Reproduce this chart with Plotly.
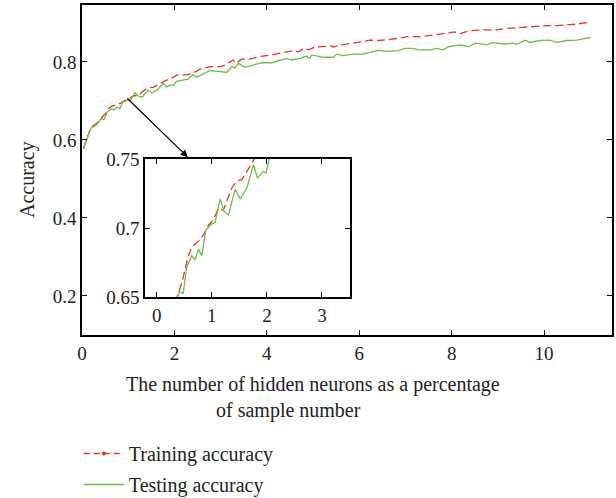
import plotly.graph_objects as go

# Testing accuracy (green, solid)
test_x = [0.03, 0.19, 0.31, 0.375, 0.41, 0.48, 0.545, 0.636, 0.696, 0.756, 0.818, 0.891, 1.0, 1.06,
          1.151, 1.224, 1.302, 1.424, 1.515, 1.636, 1.757, 1.83, 1.927, 1.987, 2.04, 2.15, 2.29, 2.4,
          2.47, 2.62, 2.77, 2.99, 3.13, 3.24, 3.31, 3.38, 3.53, 3.71, 3.89, 4.1, 4.28, 4.43, 4.54,
          4.72, 4.86, 4.93, 4.97, 5.22, 5.44, 5.51, 5.65, 5.87, 6.08, 6.27, 6.41, 6.59, 6.85, 6.99,
          7.17, 7.28, 7.53, 7.68, 7.82, 7.93, 8.18, 8.36, 8.51, 8.76, 8.9, 9.12, 9.34, 9.41, 9.59,
          9.7, 9.91, 10.13, 10.27, 10.49, 10.71, 10.92, 11.0]
test_y = [0.576, 0.630, 0.638, 0.650, 0.654, 0.6525, 0.672, 0.680, 0.677, 0.6845, 0.680, 0.6985,
          0.703, 0.704, 0.721, 0.712, 0.7095, 0.728, 0.721, 0.729, 0.746, 0.736, 0.741, 0.740, 0.750,
          0.752, 0.756, 0.767, 0.761, 0.769, 0.778, 0.775, 0.773, 0.788, 0.784, 0.797, 0.786, 0.792,
          0.798, 0.798, 0.805, 0.809, 0.805, 0.809, 0.815, 0.809, 0.818, 0.812, 0.812, 0.820, 0.816,
          0.820, 0.820, 0.826, 0.830, 0.827, 0.829, 0.835, 0.835, 0.831, 0.831, 0.835, 0.831, 0.839,
          0.844, 0.839, 0.848, 0.844, 0.850, 0.846, 0.848, 0.845, 0.856, 0.850, 0.855, 0.856, 0.850,
          0.855, 0.856, 0.861, 0.862]

# Training accuracy (red, dashed)
train_x = [0.03, 0.19, 0.31, 0.375, 0.455, 0.515, 0.575, 0.636, 0.757, 0.848, 0.939, 1.03, 1.12,
           1.21, 1.364, 1.455, 1.545, 1.667, 1.787, 1.93, 2.06, 2.27, 2.41, 2.55, 2.77, 2.99, 3.1,
           3.27, 3.34, 3.45, 3.63, 3.85, 4.1, 4.35, 4.57, 4.68, 4.82, 4.9, 5.04, 5.4, 5.44, 5.62,
           5.87, 6.08, 6.23, 6.44, 6.65, 6.88, 7.03, 7.32, 7.6, 7.97, 8.06, 8.15, 8.4, 8.69, 8.97,
           9.19, 9.55, 9.84, 10.06, 10.27, 10.49, 10.71, 10.92, 11.0]
train_y = [0.578, 0.632, 0.642, 0.651, 0.660, 0.669, 0.680, 0.686, 0.6905, 0.695, 0.702, 0.706,
           0.714, 0.713, 0.729, 0.734, 0.735, 0.743, 0.751, 0.758, 0.767, 0.767, 0.772, 0.781,
           0.788, 0.788, 0.792, 0.805, 0.797, 0.807, 0.807, 0.814, 0.818, 0.824, 0.829, 0.826,
           0.835, 0.831, 0.838, 0.841, 0.838, 0.844, 0.848, 0.852, 0.856, 0.855, 0.858, 0.861,
           0.865, 0.865, 0.869, 0.875, 0.877, 0.872, 0.880, 0.882, 0.882, 0.886, 0.889, 0.893,
           0.893, 0.893, 0.895, 0.897, 0.901, 0.902]

main_xticks = [0, 2, 4, 6, 8, 10]
main_yticks = [0.2, 0.4, 0.6, 0.8]
inset_xticks = [0, 1, 2, 3]
inset_yticks = [0.65, 0.7, 0.75]

RED = "#ee3030"
GREEN = "#6cbf45"
FONT = "Liberation Serif"
TXT = "#222"

fig = go.Figure()

fig.add_trace(go.Scatter(x=train_x, y=train_y, mode="lines", showlegend=False,
                         line=dict(color=RED, width=1.3, dash="8px,4px"), xaxis="x", yaxis="y"))
fig.add_trace(go.Scatter(x=test_x, y=test_y, mode="lines", showlegend=False,
                         line=dict(color=GREEN, width=1.3), xaxis="x", yaxis="y"))
fig.add_trace(go.Scatter(x=train_x, y=train_y, mode="lines", showlegend=False,
                         line=dict(color=RED, width=1.3, dash="8px,4px"), xaxis="x2", yaxis="y2"))
fig.add_trace(go.Scatter(x=test_x, y=test_y, mode="lines", showlegend=False,
                         line=dict(color=GREEN, width=1.3), xaxis="x2", yaxis="y2"))
fig.add_trace(go.Scatter(x=[None], y=[None], mode="lines+markers", name="Training accuracy",
                         legendgroup="a", line=dict(color=RED, width=1.3, dash="6px,4px"),
                         marker=dict(size=4, color=RED)))
fig.add_trace(go.Scatter(x=[None], y=[None], mode="lines", name="Testing accuracy",
                         legendgroup="b", line=dict(color=GREEN, width=1.3)))

axis_common = dict(showline=True, linecolor="black", linewidth=1.6, mirror="ticks",
                   ticks="inside", ticklen=5, tickcolor="black", showgrid=False, zeroline=False,
                   automargin=False, tickfont=dict(family=FONT, size=19, color=TXT))

fig.update_layout(
    width=616, height=498,
    margin=dict(l=82, r=4, t=5, b=163, autoexpand=False),
    paper_bgcolor="white", plot_bgcolor="white",
    font=dict(family=FONT, size=19, color=TXT),
    xaxis=dict(range=[0, 11.47], tickvals=main_xticks, domain=[0, 1], **axis_common),
    yaxis=dict(range=[0.1, 0.946], tickvals=main_yticks, domain=[0, 1], **axis_common),
    xaxis2=dict(range=[-0.213, 3.51], tickvals=inset_xticks, domain=[0.1189, 0.5057],
                anchor="y2", **axis_common),
    yaxis2=dict(range=[0.65, 0.75], tickvals=inset_yticks, domain=[0.1152, 0.5333],
                anchor="x2", **axis_common),
    legend=dict(x=-0.006, y=(335 - 504) / 330, xanchor="left", yanchor="bottom",
                traceorder="grouped", tracegroupgap=2, itemwidth=40,
                font=dict(family=FONT, size=20, color=TXT), bgcolor="rgba(0,0,0,0)"),
    showlegend=True,
)

fig.add_annotation(text="The number of hidden neurons as a percentage", xref="paper", yref="paper",
                   x=(313 - 82) / 530, y=(335 - 384) / 330, showarrow=False,
                   font=dict(family=FONT, size=20, color=TXT), xanchor="center", yanchor="middle")
fig.add_annotation(text="of sample number", xref="paper", yref="paper",
                   x=(288 - 82) / 530, y=(335 - 410) / 330, showarrow=False,
                   font=dict(family=FONT, size=20, color=TXT), xanchor="center", yanchor="middle")
fig.add_annotation(text="Accuracy", xref="paper", yref="paper", textangle=-90,
                   x=(27 - 82) / 530, y=(335 - 180) / 330, showarrow=False,
                   font=dict(family=FONT, size=20, color=TXT), xanchor="center", yanchor="middle")
fig.add_annotation(x=2.29, y=0.556, ax=0.95, ay=0.71, xref="x", yref="y", axref="x", ayref="y",
                   showarrow=True, arrowhead=2, arrowsize=1.2, arrowwidth=1.2, arrowcolor="black",
                   text="")

fig.write_html("out.html", config={"displayModeBar": False},
               post_script="document.body.style.margin='0';document.body.style.overflow='hidden';")
